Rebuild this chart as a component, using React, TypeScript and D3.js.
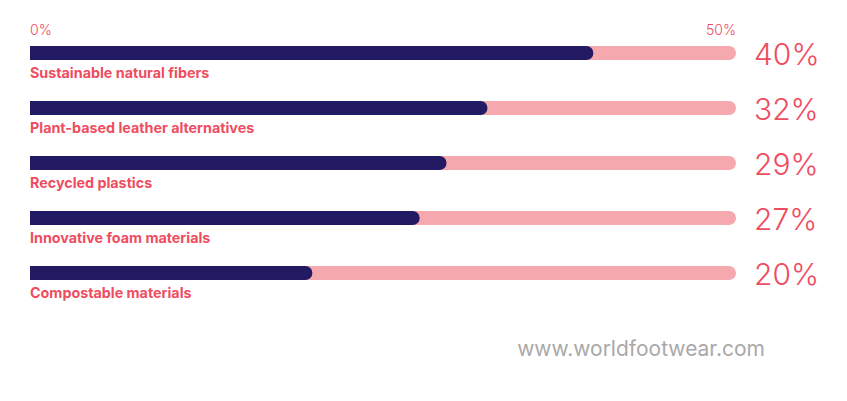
import React from "react";
import * as d3 from "d3";

const categories = [
  "Sustainable natural fibers",
  "Plant-based leather alternatives",
  "Recycled plastics",
  "Innovative foam materials",
  "Compostable materials",
];
const values = [39.9, 32.4, 29.5, 27.6, 20.0];
const valueLabels = ["40%", "32%", "29%", "27%", "20%"];
const axisTicks = [0, 50];

const W = 847;
const H = 401;
const x0 = 30;
const x1 = 736;
const barH = 14;

export default function App() {
  const x = d3.scaleLinear().domain([0, 50]).range([x0, x1]);
  const y = d3
    .scaleBand<string>()
    .domain(categories)
    .range([46, 46 + 55 * categories.length])
    .paddingInner(0)
    .paddingOuter(0);
  const r = barH / 2;
  const roundRight = (xs: number, xe: number, yt: number) =>
    `M${xs},${yt}H${xe - r}A${r},${r} 0 0 1 ${xe - r},${yt + barH}H${xs}Z`;
  const text = "#ee4d5f";
  return (
    <svg
      width={W}
      height={H}
      style={{ position: "absolute", left: 0, top: 0, background: "#fff" }}
    >
      {axisTicks.map((t, i) => (
        <text
          key={t}
          x={x(t)}
          y={35}
          fill={text}
          fontSize={14}
          fontWeight={300}
          fontFamily="Inter, sans-serif"
          textAnchor={i === 0 ? "start" : "end"}
        >
          {t}%
        </text>
      ))}
      {categories.map((c, i) => {
        const yt = y(c)!;
        return (
          <g key={c}>
            <path d={roundRight(x(0), x(50), yt)} fill="#f5a8ad" />
            <path d={roundRight(x(0), x(values[i]), yt)} fill="#221a63" />
            <text
              x={x0}
              y={yt + 32}
              fill={text}
              fontSize={14.3}
              fontWeight={700}
              fontFamily="Inter, sans-serif"
            >
              {c}
            </text>
            <text
              x={754}
              y={yt + 19}
              fill={text}
              fontSize={30}
              fontWeight={300}
              fontFamily="Inter, sans-serif"
            >
              {valueLabels[i]}
            </text>
          </g>
        );
      })}
      <text
        x={765}
        y={356}
        textAnchor="end"
        fill="#a9a9a9"
        fontSize={21}
        fontFamily="Inter, sans-serif"
      >
        www.worldfootwear.com
      </text>
    </svg>
  );
}
